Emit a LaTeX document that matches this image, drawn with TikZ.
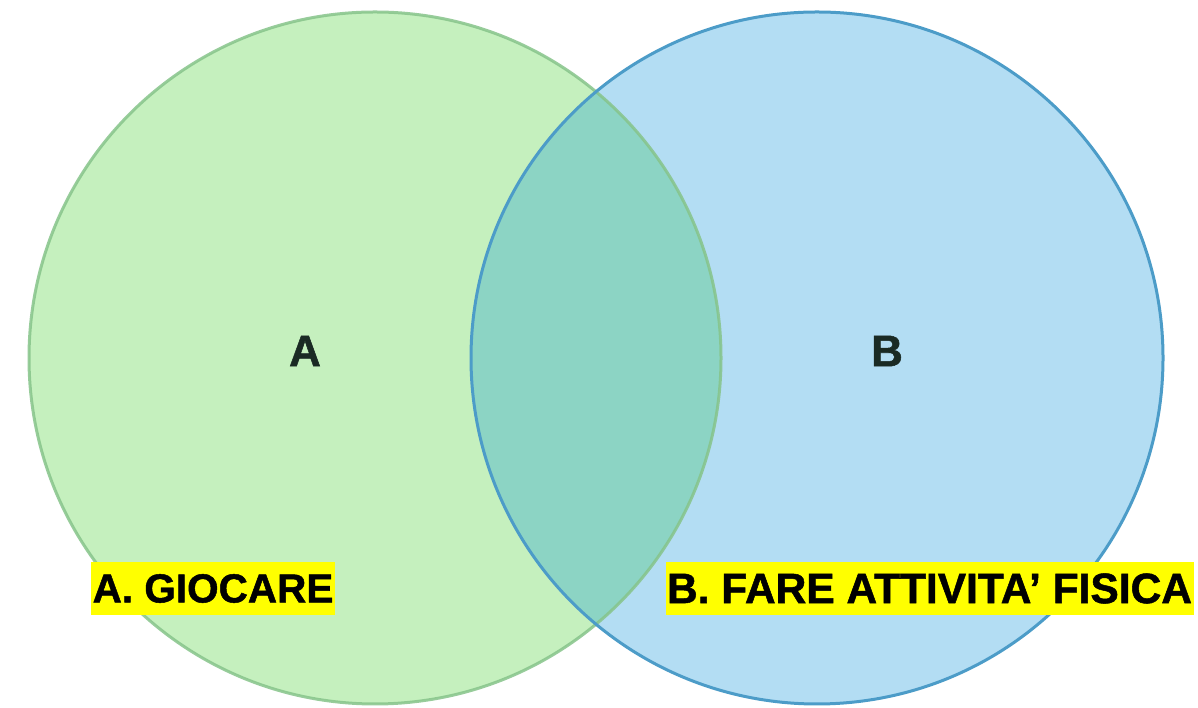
\documentclass[tikz,border=0pt]{standalone}
\usepackage{fontspec}
\setmainfont{Liberation Sans}[BoldFeatures={FakeBold=1.2}]
\definecolor{gfill}{HTML}{C5F0BE}
\definecolor{bfill}{HTML}{B3DDF3}
\definecolor{ifill}{HTML}{8CD4C4}
\definecolor{gline}{HTML}{86C48A}
\definecolor{bline}{HTML}{4C9CC8}
\definecolor{letter}{HTML}{1A2A24}
\definecolor{hl}{HTML}{FFFF00}
\tikzset{
  setletter/.style={text=letter, font=\fontsize{44}{48}\selectfont\bfseries, inner sep=0pt},
  setlabel/.style={fill=hl, text=black, inner xsep=1.5pt, inner ysep=0pt, minimum height=53pt, anchor=center},
}
\begin{document}
\begin{tikzpicture}[x=1pt,y=1pt]
\useasboundingbox (0,0) rectangle (1198,708);
\fill[white] (0,0) rectangle (1198,708);
\coordinate (ca) at (375,350);
\coordinate (cb) at (817,350);
\fill[gfill] (ca) circle[radius=346];
\fill[bfill] (cb) circle[radius=346];
\begin{scope}
  \clip (ca) circle[radius=346];
  \fill[ifill] (cb) circle[radius=346];
\end{scope}
\draw[gline, line width=3pt, draw opacity=0.85] (ca) circle[radius=346];
\draw[bline, line width=3pt] (cb) circle[radius=346];
\node[setletter] (la) at (305,357) {A};
\node[setletter] (lb) at (887,357) {B};
\node[setlabel, font=\fontsize{40.5}{45}\selectfont\bfseries] (ta) at (213,119.5) {A. GIOCARE};
\node[setlabel, font=\fontsize{42.5}{46}\selectfont\bfseries] (tb) at (929.5,119.5) {B. FARE ATTIVITA’ FISICA};
\end{tikzpicture}
\end{document}
